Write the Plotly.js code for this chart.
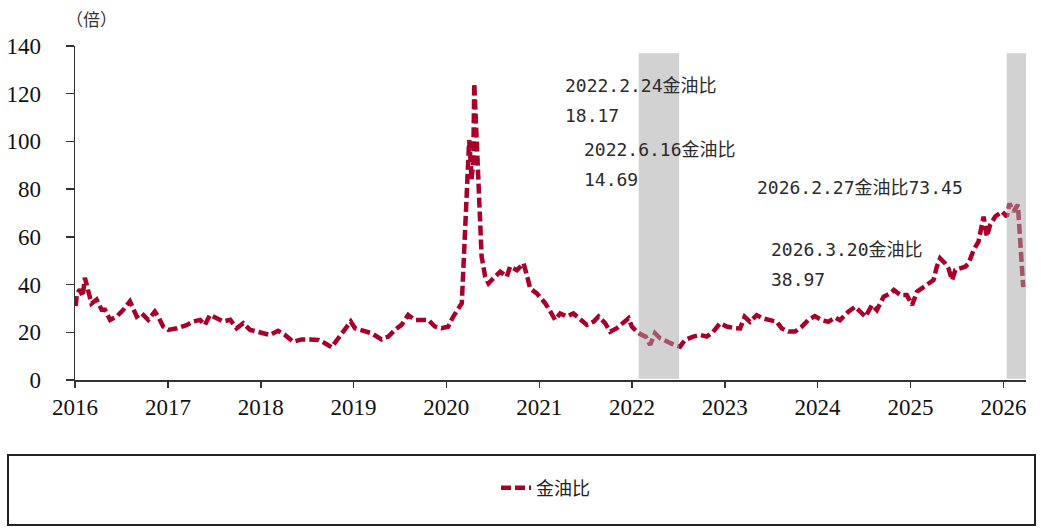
<!DOCTYPE html>
<html>
<head>
<meta charset="utf-8">
<script src="https://cdn.plot.ly/plotly-3.0.1.min.js"></script>
<style>html,body{margin:0;padding:0;background:#fff;}#chart{width:1041px;height:528px;}</style>
</head>
<body>
<div id="chart"></div>
<script>
// ---- data ----
const seriesName = '金油比';
const dates = [
'2016-01-04','2016-01-08','2016-01-20','2016-01-31','2016-02-09','2016-02-22','2016-03-06','2016-03-26','2016-04-15','2016-04-28',
'2016-05-18','2016-06-13','2016-07-09','2016-08-04','2016-08-17','2016-08-31','2016-09-19','2016-10-15','2016-11-10','2016-11-23',
'2016-12-13','2017-01-02','2017-02-05','2017-03-15','2017-04-10','2017-05-07','2017-05-26','2017-06-15','2017-07-12','2017-08-07',
'2017-09-03','2017-09-28','2017-10-24','2017-11-20','2017-12-16','2018-01-11','2018-02-06','2018-03-10','2018-04-06','2018-05-09',
'2018-06-11','2018-07-14','2018-08-16','2018-09-11','2018-10-07','2018-11-02','2018-11-28','2018-12-21','2019-01-07','2019-02-02',
'2019-03-13','2019-04-21','2019-05-18','2019-06-13','2019-07-09','2019-08-04','2019-08-30','2019-09-26','2019-10-22','2019-11-17',
'2019-12-13','2020-01-08','2020-01-28','2020-03-02','2020-03-08','2020-03-13','2020-03-23','2020-03-27','2020-03-31','2020-04-06',
'2020-04-09','2020-04-16','2020-04-20','2020-04-29','2020-05-06','2020-05-12','2020-05-19','2020-06-02','2020-06-15','2020-07-04',
'2020-07-31','2020-08-26','2020-09-08','2020-10-05','2020-10-31','2020-11-13','2020-11-26','2020-12-22','2021-01-24','2021-02-14',
'2021-03-04','2021-03-24','2021-04-19','2021-05-15','2021-06-11','2021-07-07','2021-08-03','2021-08-22','2021-09-17','2021-10-07',
'2021-11-02','2021-11-28','2021-12-18','2021-12-31','2022-01-20','2022-02-08','2022-02-24','2022-03-13','2022-04-01','2022-04-21',
'2022-05-18','2022-06-16','2022-07-09','2022-07-28','2022-08-30','2022-09-25','2022-10-22','2022-11-16','2022-12-13','2023-01-08',
'2023-02-10','2023-03-02','2023-03-20','2023-04-10','2023-05-06','2023-06-02','2023-06-28','2023-07-24','2023-08-13','2023-09-08',
'2023-10-04','2023-10-30','2023-11-25','2023-12-21','2024-01-17','2024-02-12','2024-03-10','2024-03-29','2024-05-01','2024-05-28',
'2024-06-17','2024-07-07','2024-08-02','2024-08-21','2024-09-17','2024-10-13','2024-10-27','2024-11-22','2024-12-17','2025-01-07',
'2025-01-26','2025-02-21','2025-03-19','2025-04-01','2025-04-14','2025-04-27','2025-05-17','2025-05-30','2025-06-13','2025-06-26',
'2025-07-15','2025-08-04','2025-08-17','2025-09-06','2025-09-25','2025-10-02','2025-10-15','2025-10-28','2025-11-10','2025-11-30',
'2025-12-26','2026-01-15','2026-01-25','2026-02-10','2026-02-27','2026-03-06','2026-03-11','2026-03-20'
];
const ratio = [
31,36,38,35,42.8,36.5,32,33.7,29.4,29.4,
25.2,26.6,29.4,33,29.4,26.6,28,25.2,28.7,26.6,
22.4,21,21.7,23,24.5,25.2,23,27.3,25.9,24.5,
25.2,21.7,23.8,21,20.3,19.6,18.9,20.6,18.9,16,
17,17,16.8,15.4,13.7,17.5,21,24.5,21.7,21,
19.6,17,18.2,21,23.1,27.3,25.2,25.2,25.2,22.4,
21.7,22.3,26.5,32.2,46,62.9,76.7,88,100.6,91,
84,91,124.3,102,81,62.9,51.7,43.3,40.5,42.6,
45.4,43.3,47.5,46,48.9,44,38.4,36.3,32.2,28.6,
25.2,27.9,26.6,27.9,25.2,23.1,24.5,26.6,23.8,20.2,
21.7,23.8,25.9,22.4,20.2,18.9,18.17,14.7,19.6,17.5,
16.1,14.69,14,16.8,18.2,18.9,18.2,20.2,23.8,22.4,
21.7,21.6,26.5,24.4,27.2,25.8,25.1,24.4,21.6,20.3,
20.3,22.3,25.1,26.8,25.1,24.4,26.2,25.1,28.6,30.7,
28.6,26.5,31.4,29.3,34.9,36.3,37.7,35.6,35.6,31.4,
37,39.1,41.2,41.9,47.5,51,48.9,46.8,41.9,46.1,
46.8,47.5,48.9,54.5,58,61.5,68.5,60.1,65,68.5,
70.6,68.5,74,70.6,73.45,62,50,38.97
];
const shadeStart = ['2022-01-27','2026-01-14'];
const shadeEnd   = ['2022-07-05','2026-04-08'];
const noteLines = ['2022.2.24金油比','18.17','2022.6.16金油比','14.69','2026.2.27金油比73.45','2026.3.20金油比','38.97'];
const unitLabel = '（倍）';

// ---- layout helpers (pixel -> paper) ----
const L = 75, R = 1026, T = 46, B = 380;
const px = x => (x - L) / (R - L);
const py = y => (B - y) / (B - T);

const notePos = [[563,85],[563,115],[582,149],[582,179],[755,187],[769,249],[769,279]];
const noteFont = {family:'DejaVu Sans Mono, Noto Sans CJK SC, sans-serif', size:18, color:'#2b2b2b'};

const annotations = noteLines.map((t,i)=>({
  text:t, xref:'paper', yref:'paper', x:px(notePos[i][0]), y:py(notePos[i][1]),
  xanchor:'left', yanchor:'middle', showarrow:false, font:noteFont
}));
annotations.push({text:unitLabel, xref:'paper', yref:'paper', x:px(64), y:py(19),
  xanchor:'left', yanchor:'middle', showarrow:false,
  font:{family:'Noto Sans CJK SC', size:17, color:'#333'}});

const shapes = shadeStart.map((s,i)=>({
  type:'rect', xref:'x', yref:'y', x0:s, x1:shadeEnd[i], y0:0.5, y1:137,
  fillcolor:'rgb(165,165,165)', opacity:0.5, line:{width:0}, layer:'above'
}));
shapes.push({type:'rect', xref:'paper', yref:'paper', x0:px(8), x1:px(1035), y0:py(525), y1:py(455),
  line:{color:'#222', width:2}, fillcolor:'rgba(0,0,0,0)', layer:'above'});

const tickFont = {family:'Liberation Serif, Times New Roman, serif', size:23, color:'#111'};

const trace = {
  x:dates, y:ratio, type:'scatter', mode:'lines', name:seriesName,
  line:{color:'#a8002a', width:4.5, dash:'10px,4px'}
};

const layout = {
  width:1041, height:528, autosize:false,
  margin:{l:L, r:1041-R, t:T, b:528-B},
  paper_bgcolor:'#fff', plot_bgcolor:'#fff',
  showlegend:true,
  legend:{orientation:'h', x:px(496), xanchor:'left', y:py(488), yanchor:'middle',
    font:{family:'Noto Sans CJK SC', size:18, color:'#222'}, bgcolor:'rgba(0,0,0,0)'},
  xaxis:{type:'date', range:['2016-01-01','2026-03-31'], tick0:'2016-01-01', dtick:'M12', tickformat:'%Y',
    ticks:'outside', ticklen:6, tickwidth:1.5, tickcolor:'#333', showline:true, linecolor:'#333', linewidth:1.5,
    showgrid:false, zeroline:false, tickfont:tickFont, fixedrange:true},
  yaxis:{range:[0,140], dtick:20, ticks:'outside', ticklen:8, tickwidth:1.5, tickcolor:'#333',
    showline:true, linecolor:'#333', linewidth:1.5, showgrid:false, zeroline:false,
    tickfont:tickFont, ticklabelstandoff:20, fixedrange:true},
  annotations:annotations,
  shapes:shapes
};

Plotly.newPlot('chart',[trace],layout,{displayModeBar:false, staticPlot:true});
</script>
</body>
</html>
